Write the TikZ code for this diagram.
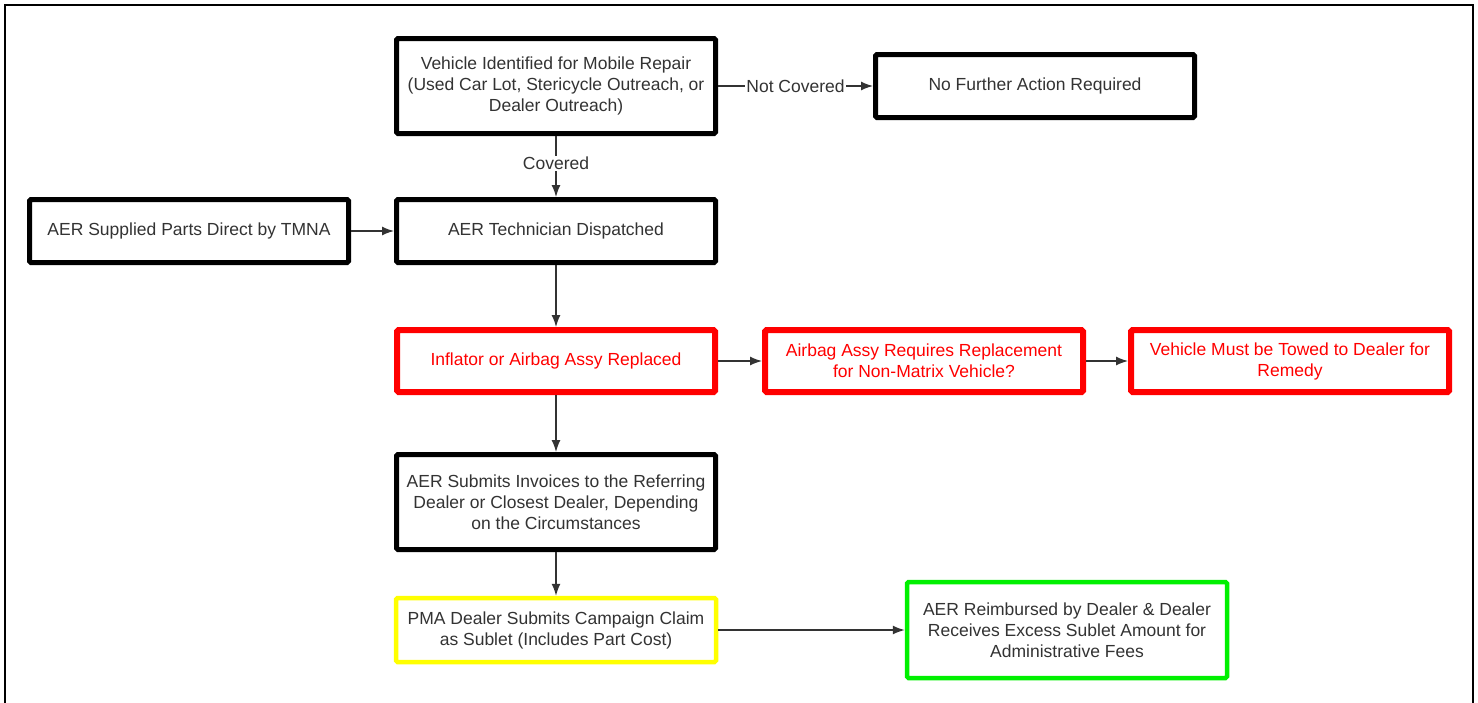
\documentclass[tikz,border=0pt]{standalone}
\usepackage{fontspec}
\setmainfont{Liberation Sans}
\usetikzlibrary{arrows.meta}
\definecolor{txt}{HTML}{333333}
\definecolor{bred}{RGB}{255,0,0}
\definecolor{byellow}{RGB}{255,255,0}
\definecolor{bgreen}{RGB}{0,240,0}
\begin{document}
\begin{tikzpicture}[x=1pt,y=-1pt,
  box/.style={draw=black,line width=5pt,rounded corners=1.5pt,fill=white,
    minimum width=319pt,minimum height=63pt,align=center,text=txt,
    font=\fontsize{17.5}{21}\selectfont,inner sep=0pt},
  tall/.style={minimum height=95pt},
  redbox/.style={draw=bred,line width=6pt,text=bred,minimum width=318pt,minimum height=62pt},
  yellowbox/.style={draw=byellow,line width=4.5pt,minimum width=320pt,minimum height=64pt},
  greenbox/.style={draw=bgreen,line width=4.5pt,minimum width=320pt,minimum height=96pt},
  arr/.style={draw=black!80,line width=1.3pt,-{Latex[length=12pt,width=9pt]}},
  lbl/.style={fill=white,text=txt,font=\fontsize{17.5}{21}\selectfont,inner sep=1pt}]
\useasboundingbox (0,0) rectangle (1478,702);
\draw[line width=2.5pt] (5,710) -- (5,5) -- (1473,5) -- (1473,710);

\node[box,tall] (V) at (556,86) {Vehicle Identified for Mobile Repair\\(Used Car Lot, Stericycle Outreach, or\\Dealer Outreach)};
\node[box] (N) at (1035,86) {No Further Action Required};
\node[box] (S) at (189,231) {AER Supplied Parts Direct by TMNA};
\node[box] (T) at (556,231) {AER Technician Dispatched};
\node[box,redbox] (I) at (556,361) {Inflator or Airbag Assy Replaced};
\node[box,redbox] (A) at (924,361) {Airbag Assy Requires Replacement\\for Non-Matrix Vehicle?};
\node[box,redbox] (R) at (1290,361) {Vehicle Must be Towed to Dealer for\\Remedy};
\node[box,tall] (Sub) at (556,502) {AER Submits Invoices to the Referring\\Dealer or Closest Dealer, Depending\\on the Circumstances};
\node[box,yellowbox] (P) at (556,630) {PMA Dealer Submits Campaign Claim\\as Sublet (Includes Part Cost)};
\node[box,greenbox] (G) at (1067,630) {AER Reimbursed by Dealer \& Dealer\\Receives Excess Sublet Amount for\\Administrative Fees};

\draw[arr] (V) -- node[lbl]{Not Covered} (N);
\draw[arr] (V) -- node[lbl,pos=0.45]{Covered} (T);
\draw[arr] (S) -- (T);
\draw[arr] (T) -- (I);
\draw[arr] (I) -- (A);
\draw[arr] (A) -- (R);
\draw[arr] (I) -- (Sub);
\draw[arr] (Sub) -- (P);
\draw[arr] (P) -- (G);
\end{tikzpicture}
\end{document}
